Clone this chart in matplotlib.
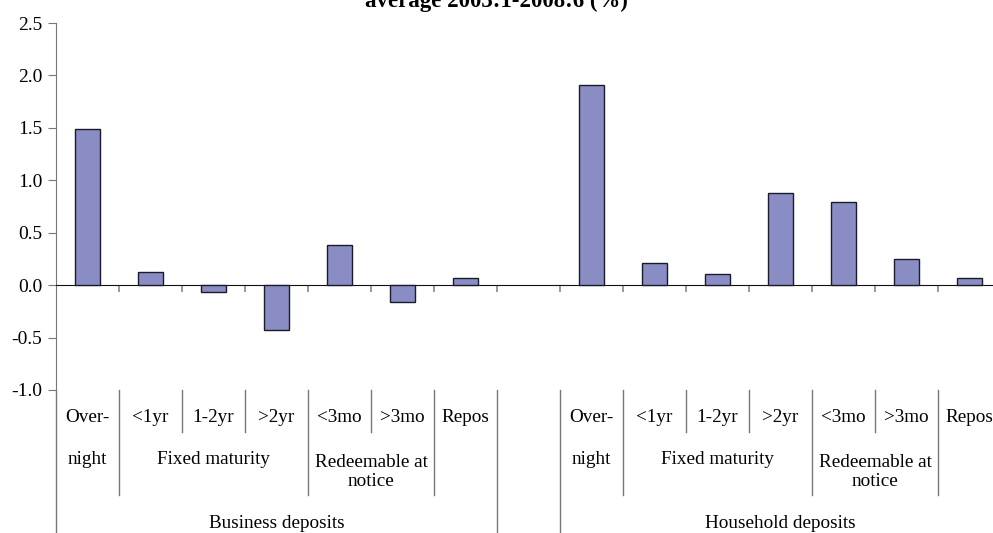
import numpy as np
import matplotlib
matplotlib.use("Agg")
import matplotlib.pyplot as plt
from matplotlib.transforms import blended_transform_factory

plt.rcParams['font.family'] = ['Liberation Serif', 'DejaVu Serif']

# data
sub_labels = ['<1yr', '1-2yr', '>2yr', '<3mo', '>3mo']
groups = ['Business deposits', 'Household deposits']
business = [1.49, 0.13, -0.07, -0.43, 0.38, -0.16, 0.07]
household = [1.91, 0.21, 0.11, 0.88, 0.79, 0.25, 0.07]
yticks = [-1.0, -0.5, 0.0, 0.5, 1.0, 1.5, 2.0, 2.5]

n = len(business)
values = business + [np.nan] + household
x = np.arange(len(values))

W, H = 993, 533
fig = plt.figure(figsize=(W / 100, H / 100), dpi=100)
# plot area in pixels: left 56, right 1001 (cut off), top 23, bottom 390
ax = fig.add_axes([56 / W, (H - 390) / H, 945 / W, 367 / H])

ax.bar(x, values, width=0.4, color='#8A8DC4', edgecolor='#1a1a2a', linewidth=1.0, zorder=3)

ax.set_xlim(-0.5, len(values) - 0.5)
ax.set_ylim(-1.0, 2.5)
ax.set_yticks(yticks)
ax.set_yticklabels([f'{v:.1f}' for v in yticks], fontsize=14)
ax.tick_params(axis='y', direction='out', length=6, color='#777777', pad=4)

for s in ['top', 'right']:
    ax.spines[s].set_visible(False)
ax.spines['left'].set_color('#777777')
ax.spines['bottom'].set_position(('data', 0))
ax.spines['bottom'].set_color('#111111')
ax.set_xticks(x[:-1] + 0.5)
ax.set_xticklabels([])
ax.tick_params(axis='x', direction='out', length=5, color='#888888', width=1.2)

tr = blended_transform_factory(ax.transData, ax.transAxes)

def fy(py):
    return (390 - py) / 367

lc = '#777777'
fs = 13.8

def sep(xv, py_end):
    ax.plot([xv, xv], [0, fy(py_end)], transform=tr, color=lc, lw=1.0, clip_on=False)

# left spine extends through labels
sep(-0.5, H)

for gi, start in enumerate([0, n + 1]):
    # category text rows
    ax.text(start, fy(418), 'Over-', transform=tr, ha='center', va='center', fontsize=fs)
    ax.text(start, fy(460), 'night', transform=tr, ha='center', va='center', fontsize=fs)
    for i, lab in enumerate(sub_labels):
        ax.text(start + 1 + i, fy(418), lab, transform=tr, ha='center', va='center', fontsize=fs)
    ax.text(start + n - 1, fy(418), 'Repos', transform=tr, ha='center', va='center', fontsize=fs)
    ax.text(start + 2, fy(460), 'Fixed maturity', transform=tr, ha='center', va='center', fontsize=fs)
    ax.text(start + 4.5, fy(472), 'Redeemable at\nnotice', transform=tr, ha='center', va='center',
            fontsize=fs, linespacing=1.2)
    ax.text(start + (n - 1) / 2, fy(524), groups[gi], transform=tr, ha='center', va='center', fontsize=fs)

    # separators
    for k in [1, 4, 6]:
        sep(start + k - 0.5, 495)
    for k in [2, 3, 5]:
        sep(start + k - 0.5, 432)
    sep(start + n - 0.5, H)
sep(n + 0.5, H)

fig.text(0.5, 1 - 7 / H, 'average 2003:1-2008:6 (%)', ha='center', va='baseline',
         fontsize=16.5, fontweight='bold')

fig.savefig('out.png', dpi=100)
